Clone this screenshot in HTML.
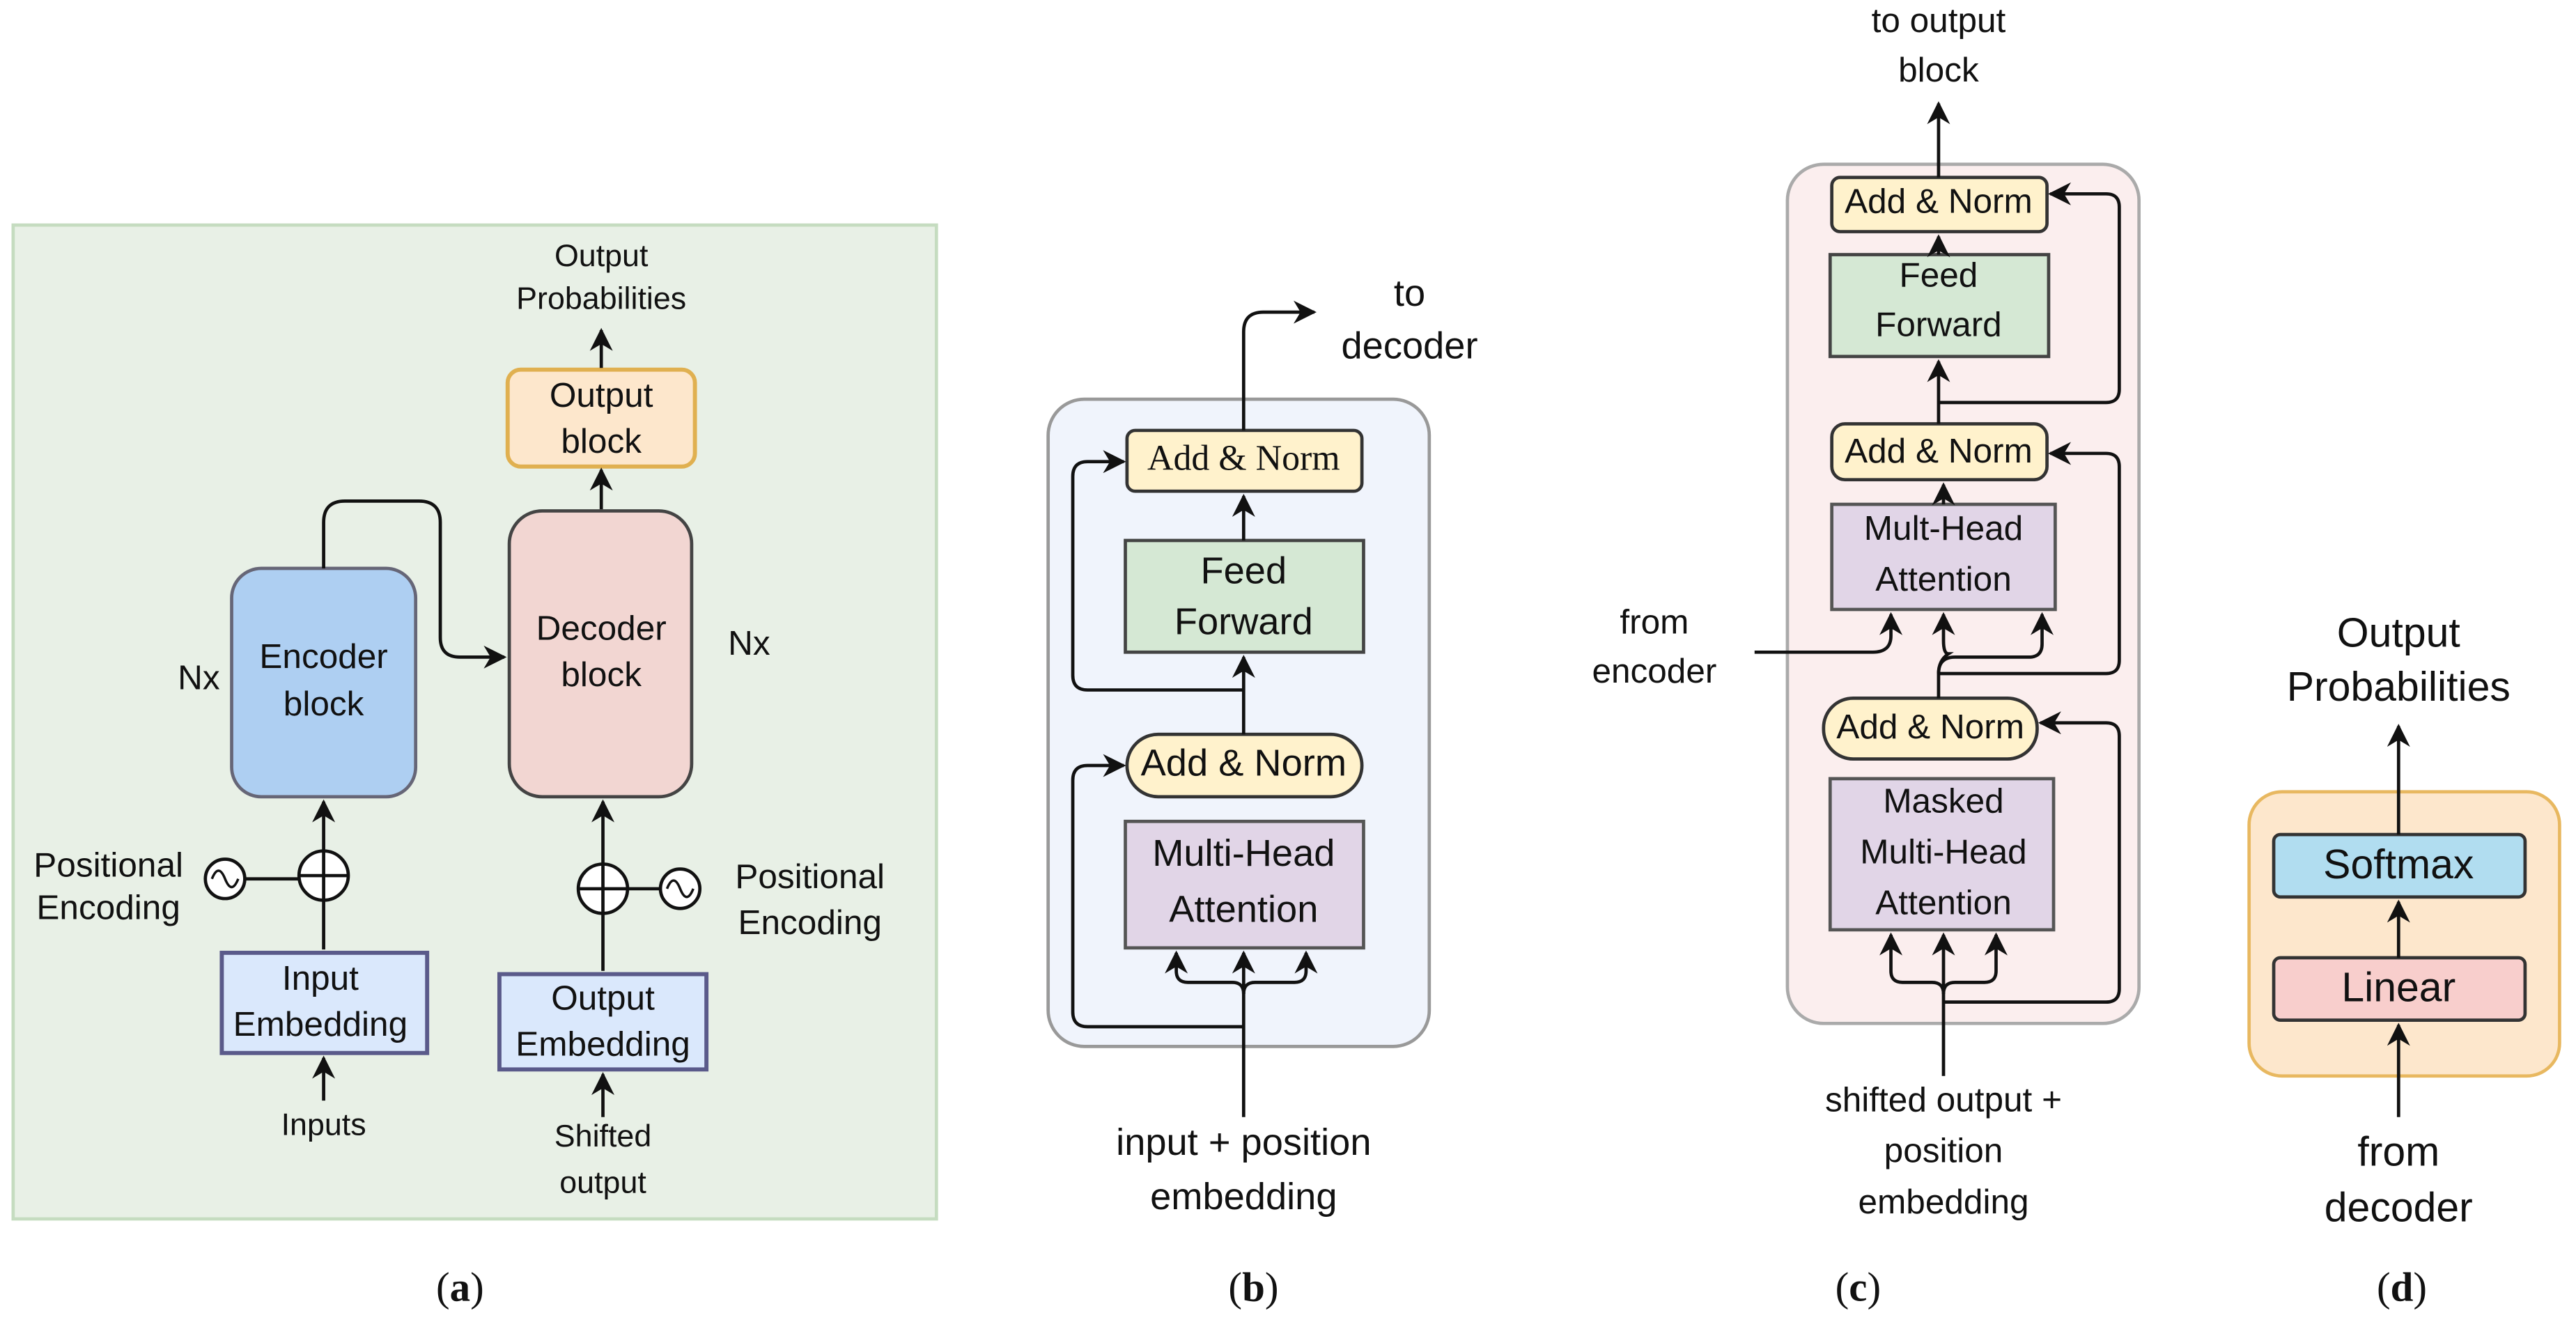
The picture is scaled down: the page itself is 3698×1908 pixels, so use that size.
<!DOCTYPE html>
<html><head><meta charset="utf-8"><style>
html,body{margin:0;padding:0;background:#fff}
svg{display:block}
text{font-family:"Liberation Sans",sans-serif;fill:#111;text-anchor:middle;dominant-baseline:middle}
.s{font-family:"Liberation Serif",serif}
</style></head><body>
<svg width="3698" height="1908" viewBox="0 0 1568 809" xmlns="http://www.w3.org/2000/svg">
<defs>
<marker id="a" viewBox="0 0 10 10" refX="9" refY="5" markerWidth="7" markerHeight="7" orient="auto-start-reverse" markerUnits="userSpaceOnUse"><path d="M0,0 L10,5 L0,10 L3,5 z" fill="#111"/></marker>
<marker id="b" viewBox="0 0 10 10" refX="9" refY="5" markerWidth="14" markerHeight="14" orient="auto" markerUnits="userSpaceOnUse"><path d="M0,0 L10,5 L0,10 L3,5 z" fill="#111"/></marker>
</defs>
<g fill="none" stroke="#111" stroke-width="2">
<!-- (a) -->
<rect x="8" y="137" width="562" height="605" fill="#e8f0e6" stroke="#c5dcc0"/>
<rect x="309" y="225" width="114" height="59" rx="8" fill="#fde7cc" stroke="#e0b050" stroke-width="2.5"/>
<rect x="310" y="311" width="111" height="174" rx="20" fill="#f2d6d2" stroke="#444"/>
<rect x="141" y="346" width="112" height="139" rx="18" fill="#aecff2" stroke="#667"/>
<rect x="135" y="580" width="125" height="61" fill="#dae8fc" stroke="#5a5a8a" stroke-width="2.5"/>
<rect x="304" y="593" width="126" height="58" fill="#dae8fc" stroke="#5a5a8a" stroke-width="2.5"/>
<path d="M366 224 V201" marker-end="url(#b)"/>
<path d="M366 310 V286" marker-end="url(#b)"/>
<path d="M197 346 V318 Q197 305 210 305 H255 Q268 305 268 318 V388 Q268 400 280 400 H307" marker-end="url(#b)"/>
<path d="M197 578 V488" marker-end="url(#b)"/>
<circle cx="197" cy="533" r="15" fill="#fff"/><path d="M182 533 H212 M197 518 V548"/>
<path d="M149 535 H182"/>
<circle cx="137" cy="535" r="12" fill="#fff"/><path d="M129 535 Q133 525 137 535 T145 535" stroke-width="1.5"/>
<path d="M197 670 V644" marker-end="url(#b)"/>
<path d="M367 591 V488" marker-end="url(#b)"/>
<circle cx="367" cy="541" r="15" fill="#fff"/><path d="M352 541 H382 M367 526 V556"/>
<path d="M382 541 H402"/>
<circle cx="414" cy="541" r="12" fill="#fff"/><path d="M406 541 Q410 531 414 541 T422 541" stroke-width="1.5"/>
<path d="M367 680 V654" marker-end="url(#b)"/>
<!-- (b) -->
<rect x="638" y="243" width="232" height="394" rx="22" fill="#f0f4fc" stroke="#999"/>
<rect x="686" y="262" width="143" height="37" rx="5" fill="#fff2cc" stroke="#333"/>
<rect x="685" y="329" width="145" height="68" fill="#d5e8d4" stroke="#444"/>
<rect x="686" y="447" width="143" height="38" rx="19" fill="#fff2cc" stroke="#333"/>
<rect x="685" y="500" width="145" height="77" fill="#e1d5e7" stroke="#555"/>
<path d="M757 680 V580" marker-end="url(#b)"/>
<path d="M757 605 Q757 598 750 598 H723 Q716 598 716 591 V580" marker-end="url(#b)"/>
<path d="M757 605 Q757 598 764 598 H788 Q795 598 795 591 V580" marker-end="url(#b)"/>
<path d="M757 625 H662 Q653 625 653 616 V475 Q653 466 662 466 H684" marker-end="url(#b)"/>
<path d="M757 447 V400" marker-end="url(#b)"/>
<path d="M757 420 H662 Q653 420 653 411 V290 Q653 281 662 281 H684" marker-end="url(#b)"/>
<path d="M757 329 V302" marker-end="url(#b)"/>
<path d="M757 262 V202 Q757 190 769 190 H800" marker-end="url(#b)"/>
<!-- (c) -->
<rect x="1088" y="100" width="214" height="523" rx="22" fill="#fbeeee" stroke="#aaa"/>
<rect x="1115" y="108" width="131" height="33" rx="5" fill="#fff2cc" stroke="#333"/>
<rect x="1114" y="155" width="133" height="62" fill="#d5e8d4" stroke="#444"/>
<rect x="1115" y="258" width="131" height="34" rx="8" fill="#fff2cc" stroke="#333"/>
<rect x="1115" y="307" width="136" height="64" fill="#e1d5e7" stroke="#555"/>
<rect x="1110" y="425" width="130" height="37" rx="18" fill="#fff2cc" stroke="#333"/>
<rect x="1114" y="474" width="136" height="92" fill="#e1d5e7" stroke="#555"/>
<path d="M1183 655 V569" marker-end="url(#b)"/>
<path d="M1183 605 Q1183 598 1176 598 H1158 Q1151 598 1151 591 V569" marker-end="url(#b)"/>
<path d="M1183 605 Q1183 598 1190 598 H1208 Q1215 598 1215 591 V569" marker-end="url(#b)"/>
<path d="M1183 610 H1282 Q1290 610 1290 602 V448 Q1290 440 1282 440 H1242" marker-end="url(#b)"/>
<path d="M1180 425 V410 Q1180 402 1186 398 Q1183 398 1183 390 V374" marker-end="url(#b)"/>
<path d="M1180 410 Q1180 400 1190 400 H1235 Q1243 400 1243 392 V374" marker-end="url(#b)"/>
<path d="M1068 397 H1140 Q1151 397 1151 387 V374" marker-end="url(#b)"/>
<path d="M1180 410 H1282 Q1290 410 1290 402 V284 Q1290 276 1282 276 H1248" marker-end="url(#b)"/>
<path d="M1183 307 V295" marker-end="url(#b)"/>
<path d="M1180 258 V220" marker-end="url(#b)"/>
<path d="M1180 245 H1282 Q1290 245 1290 237 V126 Q1290 118 1282 118 H1248" marker-end="url(#b)"/>
<path d="M1180 155 V144" marker-end="url(#b)"/>
<path d="M1180 108 V63" marker-end="url(#b)"/>
<!-- (d) -->
<rect x="1369" y="482" width="189" height="173" rx="20" fill="#fde7cc" stroke="#e8b860"/>
<rect x="1384" y="508" width="153" height="38" rx="4" fill="#b1ddf0" stroke="#333"/>
<rect x="1384" y="583" width="153" height="38" rx="4" fill="#f8cecc" stroke="#333"/>
<path d="M1460 680 V624" marker-end="url(#b)"/>
<path d="M1460 583 V549" marker-end="url(#b)"/>
<path d="M1460 508 V442" marker-end="url(#b)"/>
</g>
<!-- text (a) -->
<g font-size="19"><text x="366" y="157">Output</text><text x="366" y="183">Probabilities</text></g>
<g font-size="21">
<text x="366" y="242">Output</text><text x="366" y="270">block</text>
<text x="366" y="384">Decoder</text><text x="366" y="412">block</text>
<text x="456" y="393">Nx</text>
<text x="197" y="401">Encoder</text><text x="197" y="430">block</text>
<text x="121" y="414">Nx</text>
<text x="66" y="528">Positional</text><text x="66" y="554">Encoding</text>
<text x="493" y="535">Positional</text><text x="493" y="563">Encoding</text>
<text x="195" y="597">Input</text><text x="195" y="625">Embedding</text>
<text x="367" y="609">Output</text><text x="367" y="637">Embedding</text>
</g>
<g font-size="19"><text x="197" y="686">Inputs</text><text x="367" y="693">Shifted</text><text x="367" y="721">output</text></g>
<!-- text (b) -->
<text class="s" x="757" y="281" font-size="22">Add &amp; Norm</text>
<g font-size="23">
<text x="757" y="349">Feed</text><text x="757" y="380">Forward</text>
<text x="757" y="466">Add &amp; Norm</text>
<text x="757" y="521">Multi-Head</text><text x="757" y="555">Attention</text>
<text x="858" y="180">to</text><text x="858" y="212">decoder</text>
<text x="757" y="697">input + position</text><text x="757" y="730">embedding</text>
</g>
<!-- text (c) -->
<g font-size="21">
<text x="1180" y="124">Add &amp; Norm</text>
<text x="1180" y="169">Feed</text><text x="1180" y="199">Forward</text>
<text x="1180" y="276">Add &amp; Norm</text>
<text x="1183" y="323">Mult-Head</text><text x="1183" y="354">Attention</text>
<text x="1175" y="444">Add &amp; Norm</text>
<text x="1183" y="489">Masked</text><text x="1183" y="520">Multi-Head</text><text x="1183" y="551">Attention</text>
<text x="1180" y="14">to output</text><text x="1180" y="44">block</text>
<text x="1007" y="380">from</text><text x="1007" y="410">encoder</text>
<text x="1183" y="671">shifted output +</text><text x="1183" y="702">position</text><text x="1183" y="733">embedding</text>
</g>
<!-- text (d) -->
<g font-size="25">
<text x="1460" y="528">Softmax</text><text x="1460" y="603">Linear</text>
<text x="1460" y="387">Output</text><text x="1460" y="420">Probabilities</text>
<text x="1460" y="703">from</text><text x="1460" y="737">decoder</text>
</g>
<g class="s" font-size="25">
<text class="s" x="280" y="786">(<tspan font-weight="bold">a</tspan>)</text>
<text class="s" x="763" y="786">(<tspan font-weight="bold">b</tspan>)</text>
<text class="s" x="1131" y="786">(<tspan font-weight="bold">c</tspan>)</text>
<text class="s" x="1462" y="786">(<tspan font-weight="bold">d</tspan>)</text>
</g>
</svg>
</body></html>
